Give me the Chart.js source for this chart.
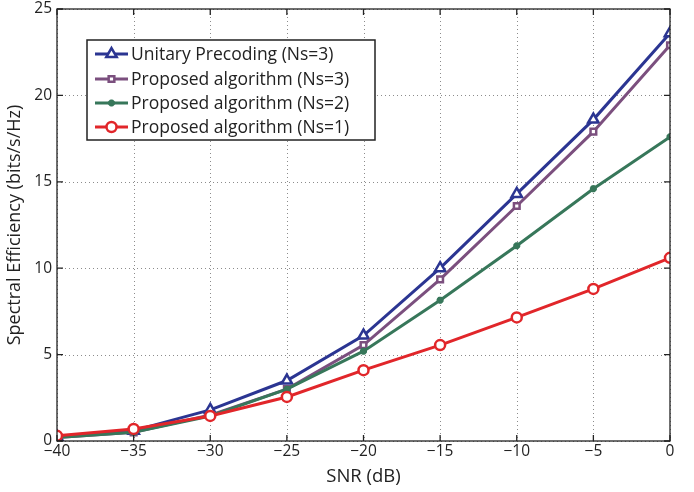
<!doctype html>
<html>
<head>
<meta charset="utf-8">
<title>Spectral efficiency vs SNR</title>
<script src="https://cdn.jsdelivr.net/npm/chart.js@4"></script>
<style>
  html, body { margin: 0; padding: 0; background: #fff; }
  #wrap { width: 694px; height: 492px; }
</style>
</head>
<body>
<div id="wrap"><canvas id="myChart" width="694" height="492"></canvas></div>
<script>
    const snr = [-40, -35, -30, -25, -20, -15, -10, -5, 0];
    const unitaryNs3 = [0.25, 0.6, 1.8, 3.5, 6.1, 10.0, 14.3, 18.6, 23.6];
    const proposedNs3 = [0.2, 0.5, 1.5, 3.0, 5.55, 9.35, 13.6, 17.9, 22.9];
    const proposedNs2 = [0.2, 0.5, 1.45, 3.0, 5.2, 8.15, 11.3, 14.6, 17.6];
    const proposedNs1 = [0.3, 0.7, 1.45, 2.55, 4.1, 5.55, 7.15, 8.8, 10.6];
    const xTicks = [-40, -35, -30, -25, -20, -15, -10, -5, 0];
    const yTicks = [0, 5, 10, 15, 20, 25];
    const seriesNames = ['Unitary Precoding (Ns=3)', 'Proposed algorithm (Ns=3)',
                         'Proposed algorithm (Ns=2)', 'Proposed algorithm (Ns=1)'];

    const FONT = '"Open Sans", "Noto Sans", sans-serif';
    const minus = v => (v < 0 ? '\u2212' + Math.abs(v) : String(v));

    function pts(arr) {
        return snr.map((x, i) => ({ x: x, y: arr[i] }));
    }

    // dotted grid under the lines
    const gridPlugin = {
        id: 'gridPlugin',
        beforeDatasetsDraw(chart) {
            const c = chart.ctx, a = chart.chartArea;
            const xs = chart.scales.x, ys = chart.scales.y;
            c.save();
            c.strokeStyle = '#8c8c8c';
            c.lineWidth = 1;
            c.setLineDash([1, 3]);
            c.beginPath();
            xTicks.forEach(t => {
                const px = Math.round(xs.getPixelForValue(t)) + 0.5;
                c.moveTo(px, a.top); c.lineTo(px, a.bottom);
            });
            yTicks.forEach(t => {
                const py = Math.round(ys.getPixelForValue(t)) + 0.5;
                c.moveTo(a.left, py); c.lineTo(a.right, py);
            });
            c.stroke();
            c.restore();
        }
    };

    // box frame, inward ticks, and the floating legend
    const boxPlugin = {
        id: 'boxPlugin',
        afterDraw(chart) {
            const c = chart.ctx, a = chart.chartArea;
            const xs = chart.scales.x, ys = chart.scales.y;
            c.save();
            c.strokeStyle = '#222';
            c.lineWidth = 1.3;
            c.strokeRect(a.left, a.top, a.right - a.left, a.bottom - a.top);
            c.beginPath();
            xTicks.forEach(t => {
                const px = xs.getPixelForValue(t);
                c.moveTo(px, a.bottom); c.lineTo(px, a.bottom - 6);
                c.moveTo(px, a.top); c.lineTo(px, a.top + 6);
            });
            yTicks.forEach(t => {
                const py = ys.getPixelForValue(t);
                c.moveTo(a.left, py); c.lineTo(a.left + 6, py);
                c.moveTo(a.right, py); c.lineTo(a.right - 6, py);
            });
            c.stroke();

            // legend
            const lx = 87, ly = 40, lw = 288, lh = 100;
            c.fillStyle = '#fff';
            c.fillRect(lx, ly, lw, lh);
            c.strokeStyle = '#222';
            c.lineWidth = 1.5;
            c.strokeRect(lx, ly, lw, lh);
            c.font = '17.5px ' + FONT;
            c.textBaseline = 'middle';
            const rows = [54, 79, 103, 127];
            chart.data.datasets.forEach((ds, i) => {
                const y = rows[i];
                c.strokeStyle = ds.borderColor;
                c.lineWidth = 3;
                c.beginPath(); c.moveTo(95, y); c.lineTo(128, y); c.stroke();
                c.fillStyle = ds.pointBackgroundColor;
                c.lineWidth = ds.pointBorderWidth;
                Chart.helpers.drawPoint(c, {
                    pointStyle: ds.pointStyle, radius: ds.pointRadius,
                    borderWidth: ds.pointBorderWidth, rotation: 0
                }, 111.5, y);
                c.fillStyle = '#222';
                c.fillText(ds.label, 131, y + 1);
            });
            c.restore();
        }
    };

    function makeSet(label, data, color, style, radius, fill, order) {
        return {
            label: label,
            data: pts(data),
            borderColor: color,
            backgroundColor: fill,
            pointBackgroundColor: fill,
            pointBorderColor: color,
            pointStyle: style,
            pointRadius: radius,
            pointBorderWidth: 2.5,
            borderWidth: 3,
            tension: 0,
            order: order
        };
    }

    const datasets = [
        makeSet(seriesNames[0], unitaryNs3, '#2b3592', 'triangle', 6, '#fff', 3),
        makeSet(seriesNames[1], proposedNs3, '#7b4f7e', 'rect', 4, '#fff', 2),
        makeSet(seriesNames[2], proposedNs2, '#37775a', 'star', 3.5, '#37775a', 1),
        makeSet(seriesNames[3], proposedNs1, '#e1262a', 'circle', 5, '#fff', 0)
    ];

    new Chart(document.getElementById('myChart'), {
        type: 'line',
        data: { datasets: datasets },
        plugins: [gridPlugin, boxPlugin],
        options: {
            responsive: false,
            animation: false,
            layout: { padding: { top: 9, right: 24, left: 0, bottom: 0 } },
            plugins: { legend: { display: false }, tooltip: { enabled: false } },
            scales: {
                x: {
                    type: 'linear',
                    min: -40, max: 0,
                    afterBuildTicks: s => { s.ticks = xTicks.map(v => ({ value: v })); },
                    afterFit: s => { s.height = 51; },
                    ticks: {
                        callback: v => minus(v),
                        color: '#222',
                        font: { family: FONT, size: 15.5 },
                        padding: 1,
                        maxRotation: 0
                    },
                    grid: { display: false, drawTicks: false },
                    border: { display: false },
                    title: {
                        display: true, text: 'SNR (dB)', color: '#222',
                        font: { family: FONT, size: 18.5 }, padding: { top: 0, bottom: 4 }
                    }
                },
                y: {
                    type: 'linear',
                    min: 0, max: 25,
                    afterBuildTicks: s => { s.ticks = yTicks.map(v => ({ value: v })); },
                    afterFit: s => { s.width = 57; s.paddingTop = 0; s.paddingBottom = 0; },
                    ticks: {
                        callback: v => minus(v),
                        color: '#222',
                        font: { family: FONT, size: 15.5 },
                        padding: 5
                    },
                    grid: { display: false, drawTicks: false },
                    border: { display: false },
                    title: {
                        display: true, text: 'Spectral Efficiency (bits/s/Hz)', color: '#222',
                        font: { family: FONT, size: 18 }, padding: { bottom: 0 }
                    }
                }
            }
        }
    });
</script>
</body>
</html>
